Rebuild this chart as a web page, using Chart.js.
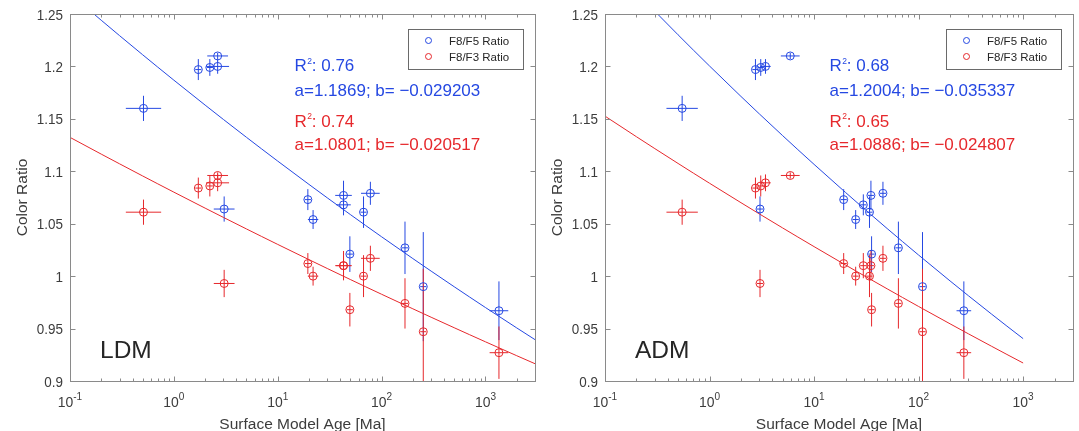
<!DOCTYPE html>
<html>
<head>
<meta charset="utf-8">
<script src="https://cdn.jsdelivr.net/npm/chart.js@4/dist/chart.umd.min.js"></script>
<style>
    html, body { margin: 0; padding: 0; background: #fff; }
    #wrap { position: relative; width: 1079px; height: 431px; overflow: hidden; }
    #wrap canvas { position: absolute; top: 0; }
</style>
</head>
<body>
<div id="wrap">
    <canvas id="ldm" width="540" height="431" style="left:0"></canvas>
    <canvas id="adm" width="539" height="431" style="left:540px"></canvas>
</div>
<script>
// colour ratios (same samples in both panels), index i is one site
var f85Ratio = [1.160, 1.197, 1.199, 1.210, 1.200, 1.064, 1.073, 1.054, 1.077, 1.068, 1.061, 1.079, 1.021, 1.027, 0.990, 0.967];
var f85Err   = [0.012, 0.010, 0.008, 0.003, 0.007, 0.012, 0.010, 0.009, 0.014, 0.010, 0.015, 0.011, 0.017, 0.025, 0.052, 0.028];
var f83Ratio = [1.061, 1.084, 1.086, 1.096, 1.089, 0.993, 1.012, 1.000, 1.010, 1.010, 1.000, 1.017, 0.968, 0.974, 0.947, 0.927];
var f83Err   = [0.012, 0.010, 0.010, 0.003, 0.008, 0.013, 0.010, 0.009, 0.014, 0.012, 0.020, 0.012, 0.016, 0.024, 0.060, 0.025];

// surface model ages [Ma] and their half-width in decades
var ldmAge       = [0.51, 1.72, 2.22, 2.64, 2.64, 3.05, 19.5, 21.9, 43, 43, 67, 78, 49.5, 168, 252, 1349];
var ldmAgeErrDex = [0.17, 0.03, 0.03, 0.10, 0.11, 0.10, 0.03, 0.05, 0.08, 0.07, 0.03, 0.09, 0.03, 0.03, 0.03, 0.09];
var admAge       = [0.547, 2.75, 3.09, 5.92, 3.43, 3.04, 19.2, 25.0, 35.0, 29.6, 33.9, 45.6, 35.5, 64.1, 109, 271];
var admAgeErrDex = [0.15, 0.03, 0.03, 0.09, 0.05, 0.03, 0.03, 0.03, 0.03, 0.03, 0.03, 0.03, 0.03, 0.03, 0.03, 0.07];

// fits y = a * age^b as printed on the panels: [F8/F5, F8/F3]
var ldmFitA = [1.1869, 1.0801];
var ldmFitB = [-0.029203, -0.020517];
var ldmR2 = ['0.76', '0.74'];
var admFitA = [1.2004, 1.0886];
var admFitB = [-0.035337, -0.024807];
var admR2 = ['0.68', '0.65'];
var ldmFitAge = [0.1, 0.2, 0.3, 0.5, 0.7, 1, 2, 3, 5, 7, 10, 20, 30, 50, 70, 100, 200, 300, 500, 700, 1000, 2000, 3000];
var admFitAge = [0.1, 0.2, 0.3, 0.5, 0.7, 1, 2, 3, 5, 7, 10, 20, 30, 50, 70, 100, 200, 300, 500, 700, 1000];

var yTicks = [0.9, 0.95, 1, 1.05, 1.1, 1.15, 1.2, 1.25];
var yTickLabels = ['0.9', '0.95', '1', '1.05', '1.1', '1.15', '1.2', '1.25'];
var xDecades = [-1, 0, 1, 2, 3];
var xDecadeLabels = ['-1', '0', '1', '2', '3'];
var seriesNames = ['F8/F5 Ratio', 'F8/F3 Ratio'];

var BLUE = '#2548e2';
var RED = '#e6282c';
var INK = '#3c3c3c';
var BOX = '#8a8a8a';
var FONT = "'Liberation Sans', Arial, sans-serif";
var X_MIN = 0.1, X_MAX = 3000;

function crisp(v) {
    return Math.round(v) + 0.5;
}

function drawText(ctx, str, x, y, size, color, align, sx) {
    ctx.save();
    ctx.font = size + 'px ' + FONT;
    ctx.fillStyle = color;
    ctx.textAlign = align || 'left';
    ctx.textBaseline = 'alphabetic';
    ctx.translate(x, y);
    ctx.scale(sx || 1, 1);
    ctx.fillText(str, 0, 0);
    ctx.restore();
}

function textWidth(ctx, str, size, sx) {
    ctx.save();
    ctx.font = size + 'px ' + FONT;
    var w = ctx.measureText(str).width * (sx || 1);
    ctx.restore();
    return w;
}

function makePanel(canvasId, p) {
    var fitLine = function (k) {
        return p.fitAge.map(function (x) {
            return {x: x, y: p.fitA[k] * Math.pow(x, p.fitB[k])};
        });
    };
    var points = function (ys) {
        return p.age.map(function (x, i) {
            return {x: x, y: ys[i]};
        });
    };

    var errorBars = {
        id: 'errorBars',
        beforeDatasetsDraw: function (chart) {
            var ctx = chart.ctx, a = chart.chartArea;
            var xs = chart.scales.x, ys = chart.scales.y;
            ctx.save();
            ctx.beginPath();
            ctx.rect(a.left, a.top, a.right - a.left, a.bottom - a.top);
            ctx.clip();
            ctx.lineWidth = 1;
            [[f85Ratio, f85Err, BLUE], [f83Ratio, f83Err, RED]].forEach(function (s) {
                ctx.strokeStyle = s[2];
                ctx.beginPath();
                for (var i = 0; i < p.age.length; i++) {
                    var px = xs.getPixelForValue(p.age[i]);
                    var py = ys.getPixelForValue(s[0][i]);
                    ctx.moveTo(px, ys.getPixelForValue(s[0][i] - s[1][i]));
                    ctx.lineTo(px, ys.getPixelForValue(s[0][i] + s[1][i]));
                    var f = Math.pow(10, p.ageErrDex[i]);
                    ctx.moveTo(xs.getPixelForValue(p.age[i] / f), py);
                    ctx.lineTo(xs.getPixelForValue(p.age[i] * f), py);
                }
                ctx.stroke();
            });
            ctx.restore();
        }
    };

    var axesDecor = {
        id: 'axesDecor',
        afterDraw: function (chart) {
            var ctx = chart.ctx, a = chart.chartArea;
            var xs = chart.scales.x, ys = chart.scales.y;
            var L = crisp(a.left), R = crisp(a.right), T = crisp(a.top), B = crisp(a.bottom);
            ctx.save();
            ctx.strokeStyle = BOX;
            ctx.lineWidth = 1;
            ctx.strokeRect(L, T, R - L, B - T);

            // inward ticks, log minor ticks on x
            ctx.beginPath();
            for (var d = -1; d <= 3; d++) {
                for (var m = 1; m <= 9; m++) {
                    var v = m * Math.pow(10, d);
                    if (v < X_MIN || v > X_MAX) continue;
                    var px = crisp(xs.getPixelForValue(v));
                    var len = m === 1 ? 5 : 3;
                    ctx.moveTo(px, B); ctx.lineTo(px, B - len);
                    ctx.moveTo(px, T); ctx.lineTo(px, T + len);
                }
            }
            yTicks.forEach(function (t) {
                var py = crisp(ys.getPixelForValue(t));
                ctx.moveTo(L, py); ctx.lineTo(L + 5, py);
                ctx.moveTo(R, py); ctx.lineTo(R - 5, py);
            });
            ctx.stroke();
            ctx.restore();

            // y tick labels
            yTicks.forEach(function (t, i) {
                drawText(ctx, yTickLabels[i], a.left - 7, ys.getPixelForValue(t) + 5.5, 14, INK, 'right', 0.96);
            });
            // x tick labels 10^k
            xDecades.forEach(function (k, i) {
                var px = xs.getPixelForValue(Math.pow(10, k));
                var w1 = textWidth(ctx, '10', 14.5, 0.96);
                var w2 = textWidth(ctx, xDecadeLabels[i], 10.5, 0.96);
                var x0 = px - (w1 + w2) / 2;
                drawText(ctx, '10', x0, 406.5, 14.5, INK, 'left', 0.96);
                drawText(ctx, xDecadeLabels[i], x0 + w1, 400, 10.5, INK, 'left', 0.96);
            });

            // axis titles
            drawText(ctx, 'Surface Model Age [Ma]', (a.left + a.right) / 2, 428.5, 15.5, INK, 'center');
            ctx.save();
            ctx.translate(a.left - 43, (a.top + a.bottom) / 2);
            ctx.rotate(-Math.PI / 2);
            drawText(ctx, 'Color Ratio', 0, 0, 15.5, INK, 'center');
            ctx.restore();

            // legend box
            var bw = 115, bh = 40;
            var bx = a.right - 12 - bw, by = a.top + 14.5;
            ctx.save();
            ctx.fillStyle = '#fff';
            ctx.fillRect(bx, by, bw, bh);
            ctx.strokeStyle = '#6a6a6a';
            ctx.strokeRect(crisp(bx), crisp(by), bw, bh);
            [BLUE, RED].forEach(function (c, i) {
                var ry = by + 12 + i * 16;
                ctx.beginPath();
                ctx.strokeStyle = c;
                ctx.lineWidth = 1;
                ctx.arc(bx + 20.5, ry, 3, 0, Math.PI * 2);
                ctx.stroke();
                drawText(ctx, seriesNames[i], bx + 41, ry + 4, 11.5, '#262626', 'left');
            });
            ctx.restore();

            // fit annotations
            var tx = a.left + 224.5;
            [[BLUE, 0, 71, 95.5], [RED, 1, 126.5, 150]].forEach(function (r) {
                var c = r[0], k = r[1];
                drawText(ctx, 'R', tx, r[2], 17, c, 'left');
                var wR = textWidth(ctx, 'R', 17);
                drawText(ctx, '2', tx + wR + 0.5, r[2] - 7.5, 8.5, c, 'left');
                drawText(ctx, ': ' + p.r2[k], tx + wR + 5, r[2], 17, c, 'left');
                var bTxt = String(p.fitB[k]).replace('-', '\u2212');
                drawText(ctx, 'a=' + p.fitA[k].toFixed(4) + '; b= ' + bTxt, tx, r[3], 17, c, 'left');
            });

            // panel label
            drawText(ctx, p.label, a.left + 30, 357.5, 24.5, '#262626', 'left');
        }
    };

    return new Chart(document.getElementById(canvasId), {
        type: 'scatter',
        data: {
            datasets: [
                {label: seriesNames[0], data: points(f85Ratio), borderColor: BLUE, backgroundColor: 'rgba(0,0,0,0)',
                    pointRadius: 4, pointHoverRadius: 4, pointBorderWidth: 1},
                {label: seriesNames[1], data: points(f83Ratio), borderColor: RED, backgroundColor: 'rgba(0,0,0,0)',
                    pointRadius: 4, pointHoverRadius: 4, pointBorderWidth: 1},
                {type: 'line', data: fitLine(0), borderColor: BLUE, borderWidth: 1, pointRadius: 0, fill: false},
                {type: 'line', data: fitLine(1), borderColor: RED, borderWidth: 1, pointRadius: 0, fill: false}
            ]
        },
        options: {
            responsive: false,
            animation: false,
            events: [],
            layout: {padding: {left: 0, right: p.padRight, top: 14, bottom: 0}},
            plugins: {legend: {display: false}, tooltip: {enabled: false}, title: {display: false}},
            scales: {
                x: {
                    type: 'logarithmic', min: X_MIN, max: X_MAX,
                    grid: {display: false}, border: {display: false}, ticks: {display: false},
                    afterFit: function (s) { s.height = 50; }
                },
                y: {
                    type: 'linear', min: 0.9, max: 1.25,
                    grid: {display: false}, border: {display: false}, ticks: {display: false},
                    afterFit: function (s) { s.width = p.axisLeft; }
                }
            }
        },
        plugins: [errorBars, axesDecor]
    });
}

makePanel('ldm', {
    label: 'LDM', age: ldmAge, ageErrDex: ldmAgeErrDex,
    fitA: ldmFitA, fitB: ldmFitB, r2: ldmR2, fitAge: ldmFitAge,
    axisLeft: 70, padRight: 4
});
makePanel('adm', {
    label: 'ADM', age: admAge, ageErrDex: admAgeErrDex,
    fitA: admFitA, fitB: admFitB, r2: admR2, fitAge: admFitAge,
    axisLeft: 65, padRight: 6
});
</script>
</body>
</html>
